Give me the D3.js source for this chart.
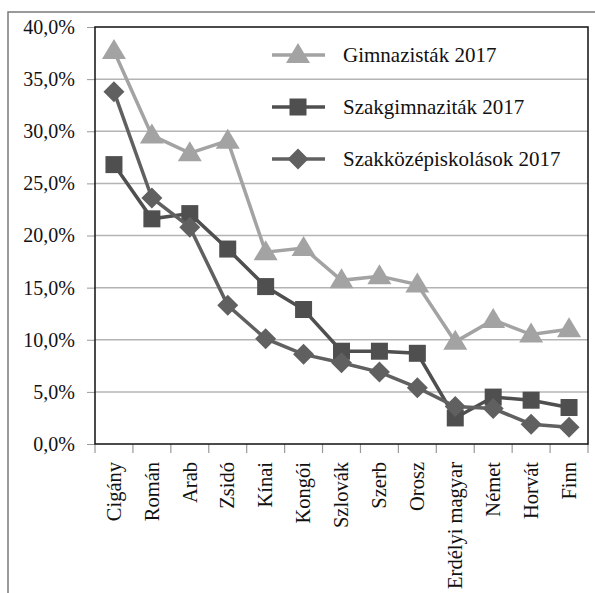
<!DOCTYPE html>
<html>
<head>
<meta charset="utf-8">
<script src="https://cdn.jsdelivr.net/npm/d3@7"></script>
<style>
  body { margin: 0; background: #fff; }
</style>
</head>
<body>
<div id="chart"></div>
<script>
const categories = ["Cigány", "Román", "Arab", "Zsidó", "Kínai", "Kongói", "Szlovák", "Szerb", "Orosz", "Erdélyi magyar", "Német", "Horvát", "Finn"]
const gimnazistak = [37.7, 29.6, 27.9, 29.1, 18.4, 18.8, 15.7, 16.1, 15.3, 9.8, 11.9, 10.5, 11.0]
const szakgimnazistak = [26.8, 21.6, 22.1, 18.7, 15.1, 12.9, 8.9, 8.9, 8.7, 2.5, 4.5, 4.2, 3.5]
const szakkozep = [33.8, 23.6, 20.8, 13.3, 10.1, 8.6, 7.8, 6.9, 5.4, 3.6, 3.4, 1.9, 1.6]
const yTicks = [0, 5, 10, 15, 20, 25, 30, 35, 40]

const series = [
    { name: "Gimnazisták 2017", values: gimnazistak, color: "#a3a3a3", shape: "triangle" },
    { name: "Szakgimnaziták 2017", values: szakgimnazistak, color: "#4f4f4f", shape: "square" },
    { name: "Szakközépiskolások 2017", values: szakkozep, color: "#606060", shape: "diamond" }
]

const width = 595, height = 593
const plotLeft = 95, plotTop = 27, plotRight = 588, plotBottom = 444
const serif = "'Liberation Serif', 'DejaVu Serif', serif"

const svg = d3.select("#chart").append("svg")
    .attr("width", width)
    .attr("height", height)

// outer frame (top + left only)
svg.append("path")
    .attr("d", `M8,${height} L8,12 L${width},12`)
    .attr("fill", "none")
    .attr("stroke", "#7a7a7a")
    .attr("stroke-width", 1.5)

let x = d3.scaleBand().domain(categories).range([plotLeft, plotRight])
let y = d3.scaleLinear().domain([0, 40]).range([plotBottom, plotTop])

// gridlines
svg.append("g").selectAll("line").data(yTicks.slice(1, -1)).enter()
    .append("line")
    .attr("x1", plotLeft).attr("x2", plotRight)
    .attr("y1", d => y(d)).attr("y2", d => y(d))
    .attr("stroke", "#b4b4b4")
    .attr("stroke-width", 1.5)

// y axis
let yAxis = svg.append("g")
    .attr("transform", `translate(${plotLeft},0)`)
    .call(d3.axisLeft(y).tickValues(yTicks).tickSize(8).tickPadding(12)
        .tickFormat(d => d3.format(".1f")(d).replace(".", ",") + "%"))
yAxis.select(".domain").remove()
yAxis.selectAll("line").attr("stroke", "#999")
yAxis.selectAll("text")
    .style("font-family", serif)
    .style("font-size", "20px")
    .attr("fill", "#111")

// x axis
let xAxis = svg.append("g")
    .attr("transform", `translate(0,${plotBottom})`)
    .call(d3.axisBottom(x).tickSize(0))
xAxis.select(".domain").remove()
xAxis.selectAll("text")
    .style("font-family", serif)
    .style("font-size", "20.5px")
    .attr("fill", "#111")
    .attr("transform", "rotate(-90)")
    .attr("text-anchor", "end")
    .attr("x", -18)
    .attr("y", 0)
    .attr("dy", "0.33em")
// x ticks at band edges
svg.append("g").selectAll("line").data(categories.concat(["end"])).enter()
    .append("line")
    .attr("x1", (d, i) => plotLeft + i * x.bandwidth())
    .attr("x2", (d, i) => plotLeft + i * x.bandwidth())
    .attr("y1", plotBottom).attr("y2", plotBottom + 9)
    .attr("stroke", "#999")
    .attr("stroke-width", 1.2)

// plot frame
svg.append("rect")
    .attr("x", plotLeft).attr("y", plotTop)
    .attr("width", plotRight - plotLeft).attr("height", plotBottom - plotTop)
    .attr("fill", "none")
    .attr("stroke", "#111")
    .attr("stroke-width", 1.5)

function marker(sel, shape, color) {
    if (shape === "triangle") {
        sel.append("path").attr("d", "M0,-12 L12,8 L-12,8 Z").attr("fill", color)
    } else if (shape === "square") {
        sel.append("rect").attr("x", -8.5).attr("y", -8.5).attr("width", 17).attr("height", 17).attr("fill", color)
    } else {
        sel.append("path").attr("d", "M0,-10.5 L10.5,0 L0,10.5 L-10.5,0 Z").attr("fill", color)
    }
}

let line = d3.line()
    .x((d, i) => x(categories[i]) + x.bandwidth() / 2)
    .y(d => y(d))

series.forEach(s => {
    svg.append("path")
        .datum(s.values)
        .attr("d", line)
        .attr("fill", "none")
        .attr("stroke", s.color)
        .attr("stroke-width", 3.5)
    svg.append("g").selectAll("g").data(s.values).enter()
        .append("g")
        .attr("transform", (d, i) => `translate(${x(categories[i]) + x.bandwidth() / 2},${y(d)})`)
        .each(function () { marker(d3.select(this), s.shape, s.color) })
})

// legend
let legend = svg.append("g")
series.forEach((s, i) => {
    let ly = 55 + i * 52
    legend.append("line")
        .attr("x1", 272).attr("x2", 325)
        .attr("y1", ly).attr("y2", ly)
        .attr("stroke", s.color).attr("stroke-width", 3.5)
    let g = legend.append("g").attr("transform", `translate(298,${ly})`)
    marker(g, s.shape, s.color)
    legend.append("text")
        .attr("x", 343).attr("y", ly)
        .attr("dy", "0.33em")
        .style("font-family", serif)
        .style("font-size", "21px")
        .attr("fill", "#111")
        .text(s.name)
})
</script>
</body>
</html>
